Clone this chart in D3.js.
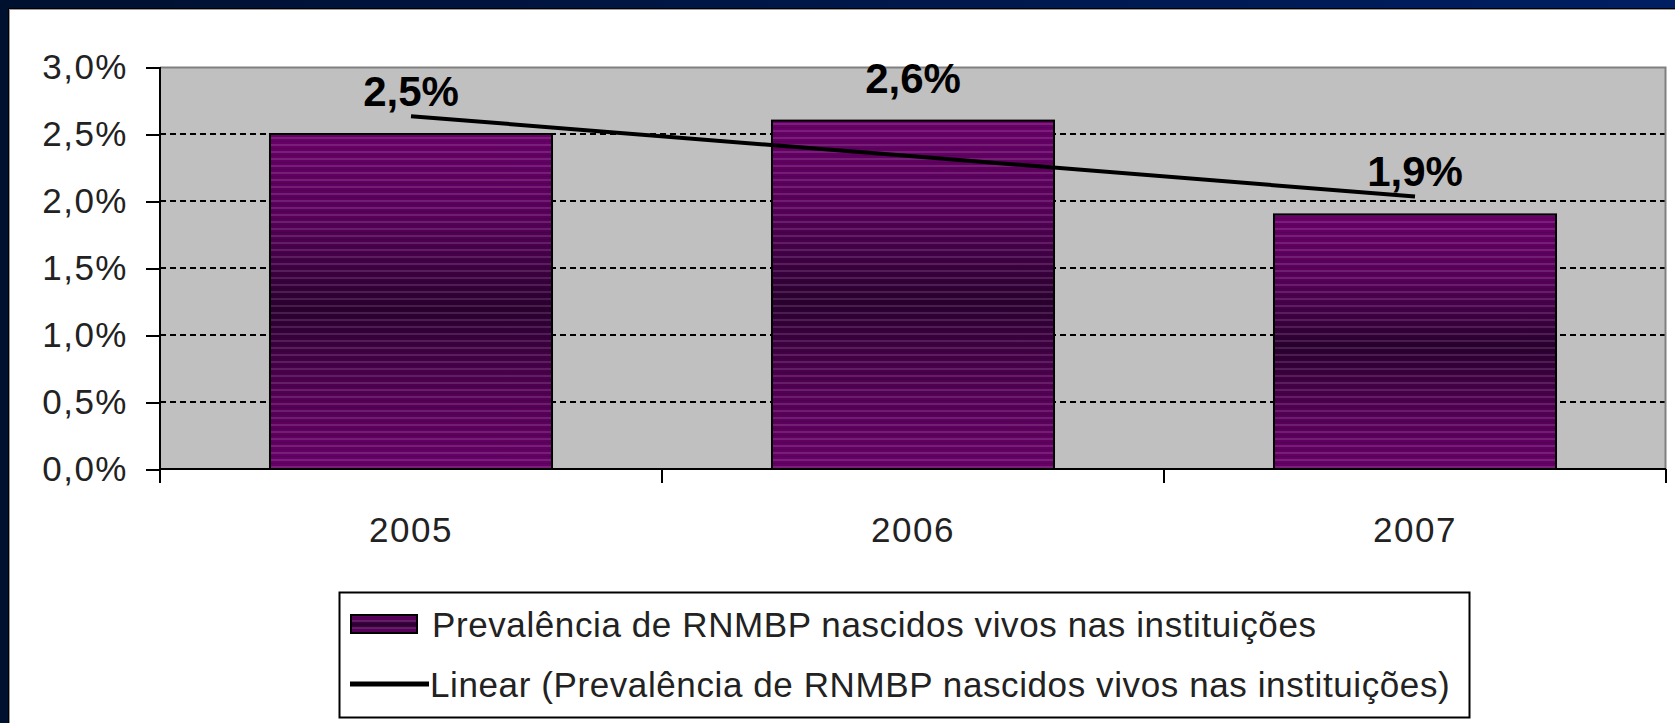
<!DOCTYPE html>
<meta charset="utf-8">
<style>
body {
  margin: 0;
  background: #fff;
  font-family: "Liberation Sans", Arial, sans-serif;
}
.axis text {
  font-size: 35px;
  letter-spacing: 1.5px;
  fill: #222;
}
.axis path,
.axis line {
  stroke: #000;
  stroke-width: 2px;
  shape-rendering: crispEdges;
}
.grid line {
  stroke: #000;
  stroke-width: 2px;
  stroke-dasharray: 6,4;
  shape-rendering: crispEdges;
}
.label {
  font-size: 42px;
  font-weight: bold;
  fill: #000;
}
.legend text {
  font-size: 35px;
  letter-spacing: 0.6px;
  fill: #222;
}
</style>
<body>
<script src="https://d3js.org/d3.v7.min.js"></script>
<script>

var years = ["2005", "2006", "2007"];
var prevalence = [0.025, 0.026, 0.019];
var yTicks = [0, 0.005, 0.01, 0.015, 0.02, 0.025, 0.03];
var legendLabels = [
  "Prevalência de RNMBP nascidos vivos nas instituições",
  "Linear (Prevalência de RNMBP nascidos vivos nas instituições)"
];

var W = 1675, H = 723;
var margin = {top: 67, right: 9, bottom: 254, left: 160},
    width = W - margin.left - margin.right,
    height = H - margin.top - margin.bottom;

var ptLocale = d3.formatLocale({decimal: ",", thousands: ".", grouping: [3], currency: ["R$", ""]});
var fmt = ptLocale.format(".1%");

var svg = d3.select("body").append("svg")
    .attr("width", W)
    .attr("height", H);

var defs = svg.append("defs");

// navy frame on the slide
var navy = defs.append("linearGradient").attr("id", "navy");
navy.append("stop").attr("offset", "0%").attr("stop-color", "#00102f");
navy.append("stop").attr("offset", "100%").attr("stop-color", "#001e62");

svg.append("rect").attr("width", W).attr("height", H).attr("fill", "#fff");
svg.append("rect").attr("x", 0).attr("y", 0).attr("width", W).attr("height", 8).attr("fill", "url(#navy)");
svg.append("rect").attr("x", 0).attr("y", 0).attr("width", 8).attr("height", H).attr("fill", "#00102f");
svg.append("line").attr("x1", 8).attr("x2", W).attr("y1", 8.5).attr("y2", 8.5).attr("stroke", "#000").attr("stroke-width", 1);
svg.append("line").attr("x1", 8.5).attr("x2", 8.5).attr("y1", 8).attr("y2", H).attr("stroke", "#000").attr("stroke-width", 1);
svg.append("line").attr("x1", 9).attr("x2", W).attr("y1", 9.5).attr("y2", 9.5).attr("stroke", "#999").attr("stroke-width", 1);
svg.append("line").attr("x1", 9.5).attr("x2", 9.5).attr("y1", 9).attr("y2", H).attr("stroke", "#999").attr("stroke-width", 1);

// bar fill: purple, darker in the middle, fine horizontal stripes
var grad = defs.append("linearGradient").attr("id", "barGrad")
    .attr("x1", 0).attr("y1", 0).attr("x2", 0).attr("y2", 1);
grad.append("stop").attr("offset", "0%").attr("stop-color", "#680068");
grad.append("stop").attr("offset", "25%").attr("stop-color", "#58005a");
grad.append("stop").attr("offset", "52%").attr("stop-color", "#2a0030");
grad.append("stop").attr("offset", "78%").attr("stop-color", "#540055");
grad.append("stop").attr("offset", "100%").attr("stop-color", "#680068");

var stripes = defs.append("pattern").attr("id", "stripes")
    .attr("patternUnits", "userSpaceOnUse")
    .attr("width", 10).attr("height", 7);
stripes.append("rect").attr("y", 0).attr("width", 10).attr("height", 2).attr("fill", "#fff").attr("opacity", 0.12);
stripes.append("rect").attr("y", 4).attr("width", 10).attr("height", 1).attr("fill", "#000").attr("opacity", 0.12);

var g = svg.append("g")
    .attr("transform", "translate(" + margin.left + "," + margin.top + ")");

var x = d3.scaleBand()
    .domain(years)
    .range([0, width]);

var y = d3.scaleLinear()
    .domain([0, 0.03])
    .range([height, 0]);

// plot background
g.append("rect")
    .attr("width", width)
    .attr("height", height)
    .attr("fill", "#c0c0c0");

// grid
g.append("g").attr("class", "grid")
  .selectAll("line")
  .data(yTicks.filter(function(d) { return d > 0 && d < 0.03; }))
  .enter().append("line")
    .attr("x1", 0).attr("x2", width)
    .attr("y1", function(d) { return Math.round(y(d)); })
    .attr("y2", function(d) { return Math.round(y(d)); });

// frame top/right
g.append("path")
    .attr("d", "M0,0.5H" + (width - 0.5) + "V" + height)
    .attr("fill", "none")
    .attr("stroke", "#808080")
    .attr("stroke-width", 2);

// bars (Excel gap width 78%)
var barW = x.bandwidth() / 1.78;
var bars = g.selectAll(".bar")
    .data(prevalence)
    .enter().append("g")
    .attr("class", "bar");

bars.append("rect")
    .attr("x", function(d, i) { return x(years[i]) + (x.bandwidth() - barW) / 2; })
    .attr("y", function(d) { return y(d); })
    .attr("width", barW)
    .attr("height", function(d) { return height - y(d); })
    .attr("fill", "url(#barGrad)");

bars.append("rect")
    .attr("x", function(d, i) { return x(years[i]) + (x.bandwidth() - barW) / 2; })
    .attr("y", function(d) { return y(d); })
    .attr("width", barW)
    .attr("height", function(d) { return height - y(d); })
    .attr("fill", "url(#stripes)")
    .attr("stroke", "#000")
    .attr("stroke-width", 2);

// linear trendline (least squares over the three bars)
var n = prevalence.length;
var mx = (n - 1) / 2, my = d3.mean(prevalence);
var slope = d3.sum(prevalence, function(v, i) { return (i - mx) * (v - my); }) /
            d3.sum(prevalence, function(v, i) { return (i - mx) * (i - mx); });
var trend = prevalence.map(function(v, i) { return my + slope * (i - mx); });

g.append("path")
    .datum(trend)
    .attr("fill", "none")
    .attr("stroke", "#000")
    .attr("stroke-width", 4)
    .attr("d", d3.line()
      .x(function(d, i) { return x(years[i]) + x.bandwidth() / 2; })
      .y(function(d) { return y(d); }));

// value labels
g.selectAll(".label")
    .data(prevalence)
    .enter().append("text")
    .attr("class", "label")
    .attr("x", function(d, i) { return x(years[i]) + x.bandwidth() / 2; })
    .attr("y", function(d) { return y(d) - 28; })
    .attr("text-anchor", "middle")
    .text(function(d) { return fmt(d); });

// y axis
g.append("g")
    .attr("class", "axis")
    .call(d3.axisLeft(y).tickValues(yTicks).tickFormat(fmt).tickSize(14).tickPadding(18))
    .call(function(a) { a.select(".domain").attr("d", "M-14,0.5H0V" + (height + 14)); });

// x axis: labels centered, ticks at category boundaries
var xa = g.append("g")
    .attr("class", "axis")
    .attr("transform", "translate(0," + height + ")")
    .call(d3.axisBottom(x).tickSize(0).tickPadding(48));
xa.select(".domain").attr("d", "M0,0H" + width);
xa.selectAll(".bound")
    .data(years.map(function(d) { return x(d); }).concat([width]))
    .enter().append("line")
    .attr("class", "bound")
    .attr("x1", function(d) { return Math.round(d); })
    .attr("x2", function(d) { return Math.round(d); })
    .attr("y1", 0).attr("y2", 14);

// legend
var lg = svg.append("g")
    .attr("class", "legend")
    .attr("transform", "translate(339,592)");

lg.append("rect")
    .attr("x", 0.5).attr("y", 0.5)
    .attr("width", 1130).attr("height", 125)
    .attr("fill", "#fff")
    .attr("stroke", "#000")
    .attr("stroke-width", 2);

lg.append("rect")
    .attr("x", 12).attr("y", 23)
    .attr("width", 66).attr("height", 18)
    .attr("fill", "url(#barGrad)");
lg.append("rect")
    .attr("x", 12).attr("y", 23)
    .attr("width", 66).attr("height", 18)
    .attr("fill", "url(#stripes)")
    .attr("stroke", "#000")
    .attr("stroke-width", 2);

lg.append("line")
    .attr("x1", 11).attr("x2", 90)
    .attr("y1", 92).attr("y2", 92)
    .attr("stroke", "#000")
    .attr("stroke-width", 5);

lg.selectAll(".lt")
    .data(legendLabels)
    .enter().append("text")
    .attr("class", "lt")
    .attr("x", function(d, i) { return i === 0 ? 93 : 91; })
    .attr("y", function(d, i) { return 45 + i * 60; })
    .text(function(d) { return d; });

</script>
